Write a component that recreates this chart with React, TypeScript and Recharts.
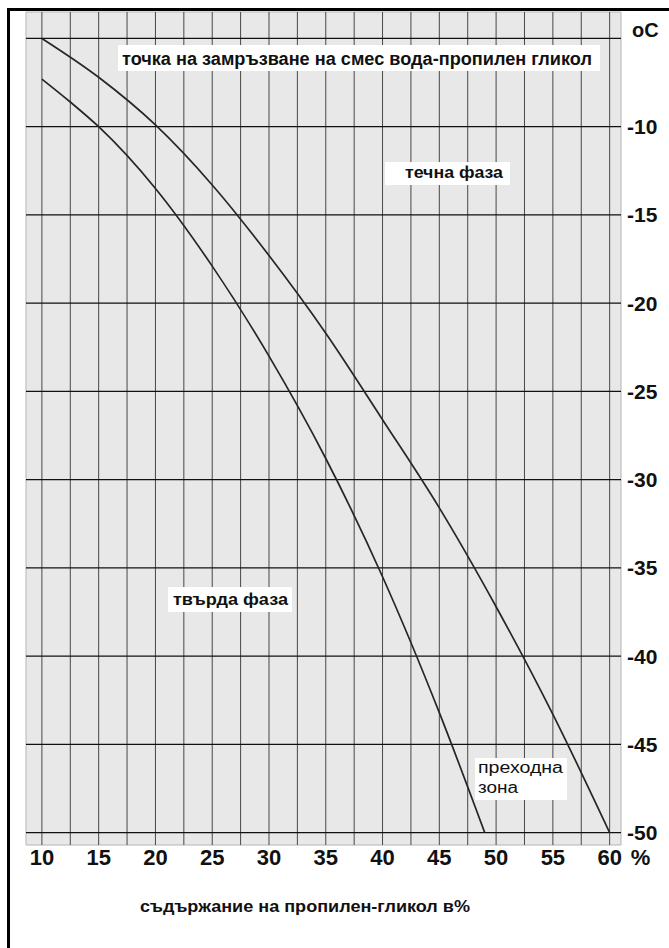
import React from "react"
import { LineChart, Line, XAxis, YAxis, ReferenceLine, ReferenceArea } from "recharts"

// % пропилен-гликол / температура °C
const upperX = [10, 15, 20, 25, 30, 35, 40, 45, 50, 55, 60]
const upperT = [-5.0, -7.2, -9.9, -13.3, -17.3, -21.7, -26.6, -31.6, -37.2, -43.3, -50]

const lowerX = [10, 12.5, 15, 20, 25, 30, 35, 40, 45, 49]
const lowerT = [-7.3, -8.6, -10, -13.5, -17.9, -23.0, -28.8, -35.5, -43.2, -50]

const xTicks = [10, 15, 20, 25, 30, 35, 40, 45, 50, 55, 60]
const gridX = [10, 12.5, 15, 17.5, 20, 22.5, 25, 27.5, 30, 32.5, 35, 37.5, 40, 42.5, 45, 47.5, 50, 52.5, 55, 57.5, 60]
const yTicks = [-5, -10, -15, -20, -25, -30, -35, -40, -45, -50]

const upper = upperX.map((x, i) => ({ x, t: upperT[i] }))
const lower = lowerX.map((x, i) => ({ x, t: lowerT[i] }))

const font = "'Liberation Sans', Arial, sans-serif"

function XTick(props: any) {
  const { x, y, payload } = props
  const v = payload.value
  return (
    <g>
      <text x={x} y={y - 4} dy="0.71em" textAnchor="middle" fontSize={22} fontWeight="bold" fill="#111" fontFamily={font}>
        {v}
      </text>
      {v === 60 && (
        <text x={x + 21} y={y - 4} dy="0.71em" textAnchor="start" fontSize={22} fontWeight="bold" fill="#111" fontFamily={font}>
          %
        </text>
      )}
    </g>
  )
}

function YTick(props: any) {
  const { x, y, payload } = props
  const v = payload.value
  if (v === -5) {
    return (
      <text x={x + 3} y={y - 8} dy="0.35em" textAnchor="start" fontSize={20} fontWeight="bold" fill="#111" fontFamily={font}>
        oC
      </text>
    )
  }
  return (
    <text x={x - 2} y={y} dy="0.35em" textAnchor="start" fontSize={21} fontWeight="bold" fill="#111" fontFamily={font}>
      {v}
    </text>
  )
}

export default function App() {
  return (
    <div style={{ position: "absolute", left: 0, top: 0, width: 669, height: 948, background: "#fff", overflow: "hidden" }}>
      <div style={{ position: "absolute", left: 7, top: 8, width: 700, height: 1000, borderLeft: "3px solid #000", borderTop: "3px solid #000" }} />
      <div style={{ position: "absolute", left: 0, top: 0 }}>
        <LineChart width={669} height={948} margin={{ top: 12, right: 0, bottom: 63, left: 26 }}>
          <XAxis
            dataKey="x"
            type="number"
            domain={[8.6, 61]}
            allowDataOverflow
            ticks={xTicks}
            axisLine={false}
            tickLine={false}
            height={40}
            interval={0}
            tick={(p: any) => <XTick {...p} />}
          />
          <YAxis
            orientation="right"
            type="number"
            domain={[-50.7, -3.5]}
            allowDataOverflow
            ticks={yTicks}
            axisLine={false}
            tickLine={false}
            width={48}
            interval={0}
            tick={(p: any) => <YTick {...p} />}
          />
          <ReferenceArea x1={8.6} x2={61} y1={-50.7} y2={-3.5} fill="#e8e8e8" fillOpacity={1} stroke="#b5b5b5" />
          {gridX.map((v) => (
            <ReferenceLine key={"gx" + v} x={v} stroke="#474747" strokeWidth={1} />
          ))}
          {yTicks.map((v) => (
            <ReferenceLine key={"gy" + v} y={v} stroke="#111" strokeWidth={1.2} />
          ))}
          <Line data={upper} dataKey="t" type="monotone" stroke="#262626" strokeWidth={1.7} dot={false} isAnimationActive={false} />
          <Line data={lower} dataKey="t" type="monotone" stroke="#262626" strokeWidth={1.7} dot={false} isAnimationActive={false} />
        </LineChart>
      </div>
      <svg width={669} height={948} style={{ position: "absolute", left: 0, top: 0, pointerEvents: "none" }} fontFamily={font}>
        <rect x={118} y={45} width={482} height={26} fill="#fff" />
        <text x={122} y={65} fontSize={18} fontWeight="bold" fill="#111" textLength={470} lengthAdjust="spacingAndGlyphs">
          точка на замръзване на смес вода-пропилен гликол
        </text>
        <rect x={385} y={162} width={125} height={23} fill="#fff" />
        <text x={405} y={178} fontSize={16} fontWeight="bold" fill="#111" textLength={98} lengthAdjust="spacingAndGlyphs">
          течна фаза
        </text>
        <rect x={168} y={587} width={124} height={25} fill="#fff" />
        <text x={173} y={605} fontSize={17} fontWeight="bold" fill="#111" textLength={115} lengthAdjust="spacingAndGlyphs">
          твърда фаза
        </text>
        <rect x={475} y={758} width={92} height={42} fill="#fff" />
        <text x={478} y={773} fontSize={16} fill="#111" textLength={85} lengthAdjust="spacingAndGlyphs">
          преходна
        </text>
        <text x={478} y={793} fontSize={16} fill="#111" textLength={40} lengthAdjust="spacingAndGlyphs">
          зона
        </text>
        <text x={140} y={912} fontSize={16} fontWeight="bold" fill="#111" textLength={330} lengthAdjust="spacingAndGlyphs">
          съдържание на пропилен-гликол в%
        </text>
      </svg>
    </div>
  )
}
